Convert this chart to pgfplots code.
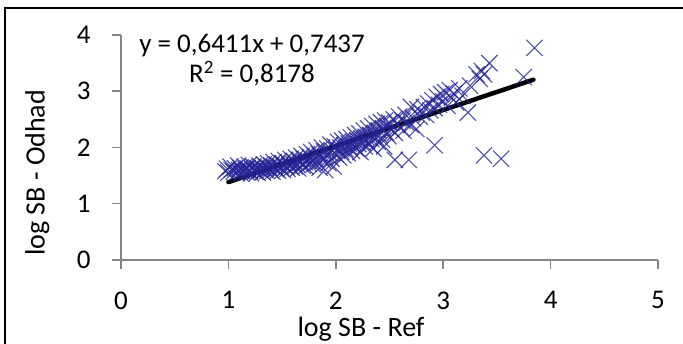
\documentclass[border=0pt]{standalone}
\usepackage{pgfplots}
\pgfplotsset{compat=1.18}
\usepackage{fontspec}
\setmainfont{Carlito}
\definecolor{mk}{RGB}{35,35,150}
\definecolor{axgray}{RGB}{134,134,134}
\begin{document}
\begin{tikzpicture}[x=1pt,y=1pt]
\useasboundingbox (0,0) rectangle (683,344);
\draw[line width=1.6pt, black] (5,-20) -- (5,336) -- (700,336);
\begin{axis}[
  at={(121pt,84pt)}, anchor=south west,
  scale only axis, width=537pt, height=225pt,
  xmin=0, xmax=5, ymin=0, ymax=4,
  xtick={0,1,2,3,4,5}, ytick={0,1,2,3,4},
  axis x line*=bottom, axis y line*=left,
  axis line style={axgray, line width=1.5pt},
  tick style={axgray, line width=1.5pt},
  tick align=outside, major tick length=9pt,
  /pgf/number format/assume math mode=true,
  ticklabel style={font=\fontsize{27}{30}\selectfont, text=black},
  xticklabel style={yshift=-19pt},
  yticklabel style={xshift=-18pt},
  xlabel={log SB - Ref}, ylabel={log SB - Odhad},
  label style={font=\fontsize{28}{32}\selectfont},
  xlabel style={at={(axis description cs:0.447,-0.342)}, anchor=base},
  ylabel style={at={(axis description cs:-0.156,0.387)}, anchor=center, rotate=0},
  clip=false,
]
\addplot[only marks, mark=x, mark size=11.5pt, color=mk, mark options={line width=1.1pt, opacity=0.8}] coordinates {
(0.97,1.58)(0.99,1.62)(1.00,1.55)(1.02,1.66)(1.03,1.60)(1.05,1.57)(1.06,1.63)(1.08,1.55)(1.09,1.68)(1.10,1.60)
(1.11,1.64)(1.12,1.53)(1.13,1.58)(1.15,1.66)(1.16,1.61)(1.17,1.56)(1.18,1.63)(1.19,1.69)(1.20,1.58)(1.21,1.54)
(1.22,1.62)(1.23,1.66)(1.24,1.60)(1.25,1.57)(1.26,1.64)(1.27,1.55)(1.28,1.62)(1.29,1.68)(1.30,1.59)
(1.31,1.63)(1.32,1.56)(1.33,1.70)(1.34,1.61)(1.35,1.66)(1.36,1.58)(1.37,1.72)(1.38,1.64)(1.39,1.60)(1.40,1.68)
(1.41,1.57)(1.42,1.74)(1.43,1.65)(1.44,1.62)(1.45,1.70)(1.46,1.59)(1.47,1.76)(1.48,1.66)(1.49,1.63)(1.50,1.72)
(1.51,1.60)(1.52,1.69)(1.53,1.78)(1.54,1.65)(1.55,1.62)(1.56,1.73)(1.57,1.68)(1.58,1.80)(1.59,1.64)(1.60,1.71)
(1.61,1.76)(1.62,1.66)(1.63,1.82)(1.64,1.70)(1.65,1.63)(1.66,1.78)(1.67,1.73)(1.68,1.85)(1.69,1.68)(1.70,1.80)
(1.71,1.74)(1.72,1.66)(1.73,1.88)(1.74,1.77)(1.75,1.71)(1.76,1.83)(1.77,1.92)(1.78,1.75)(1.79,1.69)(1.80,1.86)
(1.81,1.80)(1.82,1.95)(1.83,1.73)(1.84,1.89)(1.85,1.64)(1.86,1.83)(1.87,2.00)(1.88,1.77)(1.89,1.93)(1.90,1.60)
(1.91,1.85)(1.92,1.98)(1.93,1.72)(1.94,1.90)(1.95,2.05)(1.96,1.80)(1.97,1.94)(1.98,1.66)(1.99,2.02)(2.00,1.88)
(2.01,1.96)(2.02,2.10)(2.03,1.82)(2.04,2.00)(2.05,1.93)(2.06,2.12)(2.07,1.86)(2.08,2.04)(2.09,1.97)(2.10,2.15)
(2.11,1.90)(2.12,2.07)(2.13,2.00)(2.14,2.18)(2.15,1.94)(2.16,2.10)(2.17,2.03)(2.18,2.22)(2.19,1.98)(2.20,2.13)
(2.21,2.06)(2.22,2.25)(2.23,1.92)(2.24,2.16)(2.25,2.09)(2.26,2.30)(2.27,2.02)(2.28,2.19)(2.29,2.12)(2.30,2.34)
(2.31,2.05)(2.32,2.22)(2.33,2.15)(2.34,2.38)(2.35,1.98)(2.36,2.26)(2.37,2.18)(2.38,2.42)(2.39,2.10)(2.40,2.30)
(2.41,2.22)(2.42,2.45)(2.43,2.14)(2.44,2.34)(2.45,2.02)(2.46,2.48)(2.47,2.26)(2.48,2.38)(2.49,2.20)(2.50,2.44)
(2.52,2.32)(2.54,2.50)(2.55,2.26)(2.57,2.42)(2.55,1.78)(2.59,2.55)(2.60,2.36)(2.62,2.48)(2.63,2.30)(2.65,2.58)
(2.66,2.44)(2.68,1.78)(2.70,2.72)(2.70,2.40)(2.72,2.52)(2.75,2.33)(2.76,2.68)(2.78,2.55)
(2.80,2.62)(2.82,2.72)(2.84,2.58)(2.86,2.78)(2.88,2.66)(2.90,2.84)(2.92,2.70)(2.92,2.04)(2.94,2.90)(2.96,2.76)
(2.98,2.95)(3.00,2.82)(3.02,2.98)(3.04,2.74)(3.06,3.02)(3.08,2.88)(3.10,2.96)(3.12,2.80)(3.15,3.05)(3.18,2.92)
(3.23,2.62)(3.25,3.10)
(3.31,3.30)(3.34,3.22)(3.36,3.36)(3.38,3.30)(3.38,1.86)(3.43,3.50)(3.54,1.80)(3.75,3.25)(3.85,3.77)
};
\addplot[black, line width=4.5pt, line cap=round] coordinates {(1,1.3848) (3.84,3.2055)};
\node[align=center, font=\fontsize{27}{30}\selectfont, text=black] at (axis cs:1.22,3.56) {y = 0,6411x + 0,7437\\R\textsuperscript{2} = 0,8178};
\end{axis}
\end{tikzpicture}
\end{document}
